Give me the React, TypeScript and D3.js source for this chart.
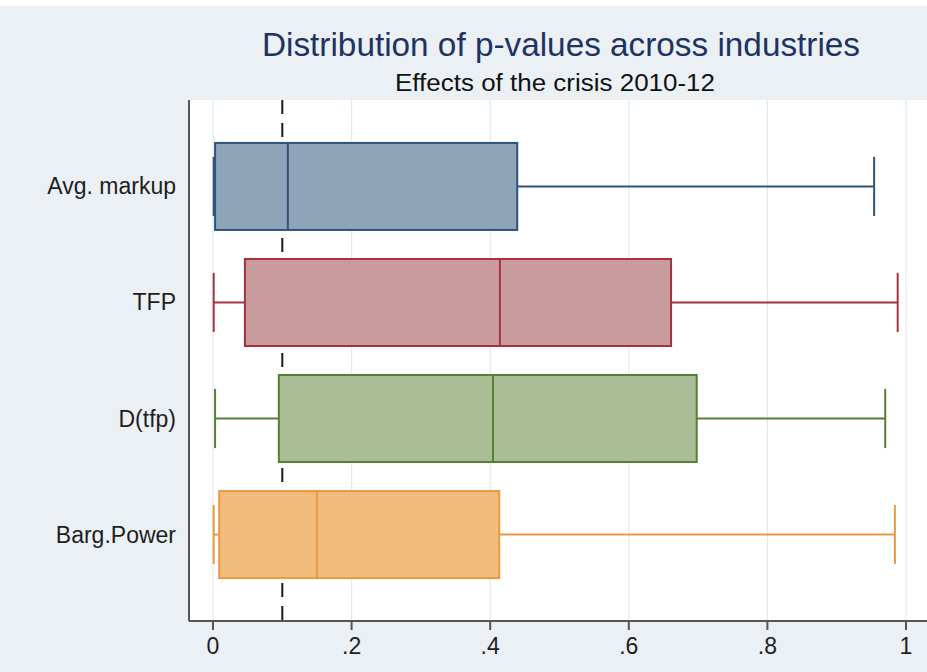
import React from "react";
import * as d3 from "d3";

// p-value distribution summary per variable (five-number summary)
const categories = ["Avg. markup", "TFP", "D(tfp)", "Barg.Power"];
const whiskerLow = [0.001, 0.001, 0.003, 0.001];
const q1 = [0.003, 0.046, 0.095, 0.009];
const median = [0.108, 0.414, 0.404, 0.15];
const q3 = [0.439, 0.661, 0.698, 0.413];
const whiskerHigh = [0.954, 0.988, 0.97, 0.984];
const xTicks = [0, 0.2, 0.4, 0.6, 0.8, 1];
const xTickLabels = ["0", ".2", ".4", ".6", ".8", "1"];
const referenceLine = 0.1;

const fills = ["#8ea4b8", "#c99b9f", "#aabd95", "#f0bd7d"];
const strokes = ["#2f5479", "#a3343f", "#557f37", "#ec9840"];

const W = 927;
const H = 672;
const plot = { left: 189, right: 927, top: 100, bottom: 621 };

export default function App() {
  const x = d3.scaleLinear().domain([0, 1]).range([213, 906]);
  const y = d3
    .scaleBand<string>()
    .domain(categories)
    .range([plot.top, plot.bottom])
    .paddingInner(0.25)
    .paddingOuter(0.37);
  const bh = y.bandwidth();
  const capH = bh * 0.68;
  const font = "'Liberation Sans', Arial, sans-serif";

  return (
    <svg
      width={W}
      height={H}
      style={{ position: "absolute", left: 0, top: 0 }}
      fontFamily={font}
    >
      <rect x={0} y={0} width={W} height={H} fill="#eaf0f3" />
      <rect x={0} y={0} width={W} height={6} fill="#ffffff" />
      <rect
        x={plot.left}
        y={plot.top}
        width={plot.right - plot.left}
        height={plot.bottom - plot.top}
        fill="#ffffff"
      />
      {xTicks.map((t) => (
        <line
          key={"g" + t}
          x1={x(t)}
          x2={x(t)}
          y1={plot.top}
          y2={plot.bottom}
          stroke="#e4e9ee"
          strokeWidth={1.2}
        />
      ))}
      <line
        x1={x(referenceLine)}
        x2={x(referenceLine)}
        y1={plot.top}
        y2={plot.bottom}
        stroke="#1a1a1a"
        strokeWidth={2}
        strokeDasharray="14,9"
      />
      {categories.map((c, i) => {
        const y0 = y(c)!;
        const cy = y0 + bh / 2;
        return (
          <g key={c} stroke={strokes[i]} strokeWidth={2}>
            <line x1={x(whiskerLow[i])} x2={x(q1[i])} y1={cy} y2={cy} />
            <line x1={x(q3[i])} x2={x(whiskerHigh[i])} y1={cy} y2={cy} />
            <line
              x1={x(whiskerLow[i])}
              x2={x(whiskerLow[i])}
              y1={cy - capH / 2}
              y2={cy + capH / 2}
            />
            <line
              x1={x(whiskerHigh[i])}
              x2={x(whiskerHigh[i])}
              y1={cy - capH / 2}
              y2={cy + capH / 2}
            />
            <rect
              x={x(q1[i])}
              y={y0}
              width={x(q3[i]) - x(q1[i])}
              height={bh}
              fill={fills[i]}
            />
            <line x1={x(median[i])} x2={x(median[i])} y1={y0} y2={y0 + bh} />
            <text
              x={176}
              y={cy}
              textAnchor="end"
              dominantBaseline="central"
              fontSize={23}
              fill="#1e1e1e"
              stroke="none"
            >
              {c}
            </text>
          </g>
        );
      })}
      <line
        x1={plot.left}
        x2={plot.left}
        y1={plot.top}
        y2={plot.bottom}
        stroke="#555"
        strokeWidth={2}
      />
      <line
        x1={plot.left}
        x2={plot.right}
        y1={plot.bottom}
        y2={plot.bottom}
        stroke="#555"
        strokeWidth={2}
      />
      {xTicks.map((t, i) => (
        <g key={"t" + t}>
          <line
            x1={x(t)}
            x2={x(t)}
            y1={plot.bottom}
            y2={plot.bottom + 9}
            stroke="#555"
            strokeWidth={2}
          />
          <text
            x={x(t)}
            y={646}
            textAnchor="middle"
            dominantBaseline="central"
            fontSize={23}
            fill="#1e1e1e"
          >
            {xTickLabels[i]}
          </text>
        </g>
      ))}
      <text
        x={561}
        y={56}
        textAnchor="middle"
        fontSize={33}
        fill="#1f3363"
        textLength={598}
        lengthAdjust="spacingAndGlyphs"
      >
        Distribution of p-values across industries
      </text>
      <text
        x={555}
        y={91}
        textAnchor="middle"
        fontSize={23}
        fill="#111"
        textLength={320}
        lengthAdjust="spacingAndGlyphs"
      >
        Effects of the crisis 2010-12
      </text>
    </svg>
  );
}
